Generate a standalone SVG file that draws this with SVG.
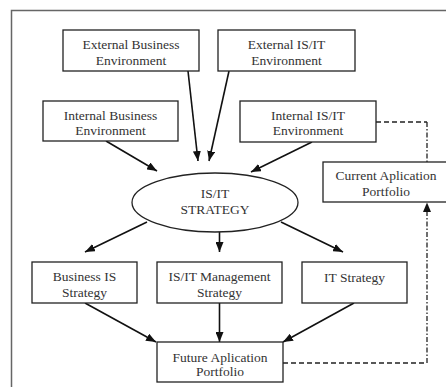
<svg xmlns="http://www.w3.org/2000/svg" width="446" height="387" viewBox="0 0 446 387">
<style>
  .box { fill: #fff; stroke: #222; stroke-width: 1.3; }
  .t { font-family: "Liberation Serif", "Times New Roman", serif; font-size: 13.5px; fill: #333; text-anchor: middle; }
  .arr { stroke: #111; stroke-width: 1.6; fill: none; marker-end: url(#ah); }
  .dash { stroke: #222; stroke-width: 1.3; fill: none; stroke-dasharray: 5 3; }
  .dashdot { stroke: #222; stroke-width: 1.3; fill: none; stroke-dasharray: 5 2 1.5 2; }
</style>
<defs>
  <marker id="ah" viewBox="0 0 10 8" refX="10" refY="4" markerWidth="10" markerHeight="8" markerUnits="userSpaceOnUse" orient="auto">
    <path d="M0,0 L10,4 L0,8 Z" fill="#111"/>
  </marker>
</defs>
<rect width="446" height="387" fill="#fff"/>
<g id="frame">
  <path d="M11.5,387 V10.5 H446" fill="none" stroke="#666" stroke-width="1.5"/>
</g>
<g id="connectors">
  <line class="arr" x1="188" y1="71" x2="198" y2="161"/>
  <line class="arr" x1="229" y1="71" x2="209" y2="161"/>
  <line class="arr" x1="106" y1="141" x2="157" y2="171"/>
  <line class="arr" x1="312" y1="142" x2="251" y2="172"/>
  <line class="arr" x1="147" y1="222" x2="85" y2="252"/>
  <line class="arr" x1="219.5" y1="232" x2="219.5" y2="252"/>
  <line class="arr" x1="281" y1="222" x2="343" y2="252"/>
  <line class="arr" x1="85" y1="303" x2="156" y2="342"/>
  <line class="arr" x1="219.5" y1="303" x2="219.5" y2="342"/>
  <line class="arr" x1="354" y1="303" x2="283" y2="342"/>
  <path class="dash" d="M376,122 H427"/>
  <path class="dashdot" d="M427,122 V162"/>
  <path class="dash" d="M283,363 H427"/>
  <path class="dashdot" d="M427,363 V212"/>
  <path d="M427,202.5 L431,212 L423,212 Z" fill="#111"/>
</g>
<g id="ext-business">
  <rect class="box" x="63" y="30" width="136" height="41"/>
  <text class="t" x="131" y="48.5">External Business</text>
  <text class="t" x="131" y="65">Environment</text>
</g>
<g id="ext-isit">
  <rect class="box" x="218" y="30" width="137" height="41"/>
  <text class="t" x="286.5" y="48.5">External IS/IT</text>
  <text class="t" x="286.5" y="65">Environment</text>
</g>
<g id="int-business">
  <rect class="box" x="43" y="101" width="135" height="40"/>
  <text class="t" x="110.5" y="119.5">Internal Business</text>
  <text class="t" x="110.5" y="135">Environment</text>
</g>
<g id="int-isit">
  <rect class="box" x="240" y="101" width="136" height="41"/>
  <text class="t" x="308" y="119.5">Internal IS/IT</text>
  <text class="t" x="308" y="135">Environment</text>
</g>
<g id="current">
  <rect class="box" x="323" y="162" width="130" height="40"/>
  <text class="t" x="386" y="179.5">Current Aplication</text>
  <text class="t" x="386" y="195.5">Portfolio</text>
</g>
<g id="strategy">
  <ellipse class="box" cx="215" cy="202.5" rx="83" ry="29.5"/>
  <text class="t" x="215" y="197.5">IS/IT</text>
  <text class="t" x="215" y="213.5">STRATEGY</text>
</g>
<g id="business-is">
  <rect class="box" x="32" y="262" width="105" height="41"/>
  <text class="t" x="84.5" y="280.5">Business IS</text>
  <text class="t" x="84.5" y="296.5">Strategy</text>
</g>
<g id="isit-mgmt">
  <rect class="box" x="157" y="262" width="125" height="41"/>
  <text class="t" x="219.5" y="280.5">IS/IT Management</text>
  <text class="t" x="219.5" y="296.5">Strategy</text>
</g>
<g id="it-strategy">
  <rect class="box" x="302" y="262" width="105" height="41"/>
  <text class="t" x="354.5" y="281.5">IT Strategy</text>
</g>
<g id="future">
  <rect class="box" x="157" y="342" width="126" height="40"/>
  <text class="t" x="220" y="361.5">Future Aplication</text>
  <text class="t" x="220" y="376">Portfolio</text>
</g>
</svg>
